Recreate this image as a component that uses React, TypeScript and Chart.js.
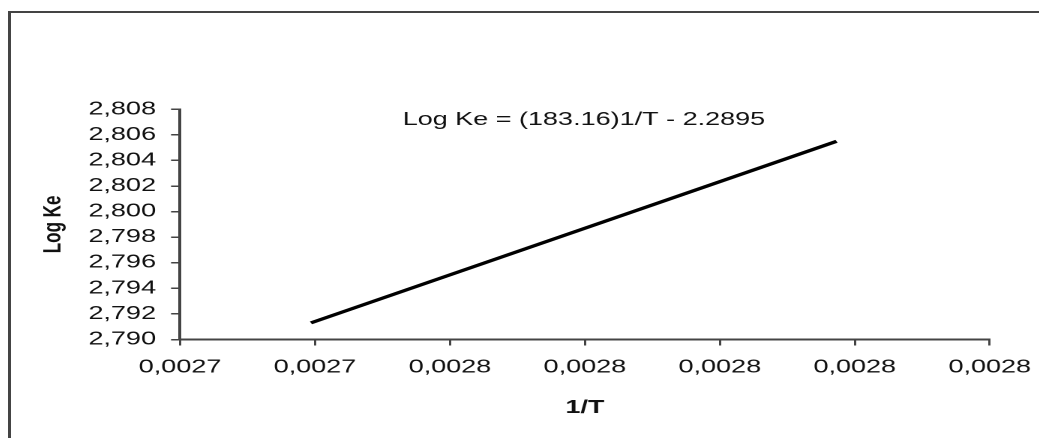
import React, { useEffect, useRef } from "react";
import { Chart, registerables } from "chart.js";

Chart.register(...registerables);

// ---- data ----
const invT = [0.0027394, 0.0028173];
const logKe = [2.7913, 2.8055];
const xTicks = [0.00272, 0.00274, 0.00276, 0.00278, 0.0028, 0.00282, 0.00284];
const xTickLabels = ["0,0027", "0,0027", "0,0028", "0,0028", "0,0028", "0,0028", "0,0028"];
const yTicks = [2.79, 2.792, 2.794, 2.796, 2.798, 2.8, 2.802, 2.804, 2.806, 2.808];
const yTickLabels = ["2,790", "2,792", "2,794", "2,796", "2,798", "2,800", "2,802", "2,804", "2,806", "2,808"];
const equationText = "Log Ke = (183.16)1/T - 2.2895";
const xTitle = "1/T";
const yTitle = "Log Ke";

const FONT = "'Liberation Sans', Arial, sans-serif";
const STRETCH = 1.5;
const W = 693;
const H = 430;

const framePlugin = {
  id: "frameAndEquation",
  afterDraw(chart: any) {
    const { ctx, chartArea } = chart;
    ctx.save();
    ctx.strokeStyle = "#444";
    ctx.lineWidth = 2;
    ctx.beginPath();
    ctx.moveTo(1, H + 10);
    ctx.lineTo(1, 4);
    ctx.lineTo(W + 10, 4);
    ctx.stroke();
    ctx.fillStyle = "#111";
    ctx.font = `18px ${FONT}`;
    ctx.textAlign = "left";
    ctx.textBaseline = "alphabetic";
    ctx.fillText(equationText, chartArea.left + 148.4, chartArea.top + 15.7);
    ctx.restore();
  },
};

export default function App() {
  const ref = useRef<HTMLCanvasElement>(null);
  useEffect(() => {
    if (!ref.current) return;
    const chart = new Chart(ref.current, {
      type: "scatter",
      data: {
        datasets: [
          {
            data: invT.map((x, i) => ({ x, y: logKe[i] })),
            showLine: true,
            borderColor: "#000",
            borderWidth: 3.2,
            pointRadius: 0,
            pointHoverRadius: 0,
          },
        ],
      },
      options: {
        animation: false,
        responsive: false,
        devicePixelRatio: 2,
        layout: { padding: { top: 101.3, right: 35, bottom: 0, left: 0 } },
        plugins: { legend: { display: false }, tooltip: { enabled: false } },
        scales: {
          x: {
            type: "linear",
            min: xTicks[0],
            max: xTicks[xTicks.length - 1],
            afterBuildTicks: (s: any) => {
              s.ticks = xTicks.map((v) => ({ value: v }));
            },
            afterFit: (s: any) => {
              s.height = 98.5;
            },
            ticks: {
              autoSkip: false,
              maxRotation: 0,
              minRotation: 0,
              padding: 11,
              color: "#111",
              font: { family: FONT, size: 18 },
              callback: (_v: any, i: number) => xTickLabels[i],
            },
            grid: { drawOnChartArea: false, drawTicks: true, tickLength: 6, color: "#444", lineWidth: 1.5 },
            border: { display: true, color: "#444", width: 2 },
            title: {
              display: true,
              text: xTitle,
              color: "#111",
              font: { family: FONT, size: 18, weight: "bold" },
              padding: { top: 0, bottom: 19 },
            },
          },
          y: {
            type: "linear",
            min: yTicks[0],
            max: yTicks[yTicks.length - 1],
            afterBuildTicks: (s: any) => {
              s.ticks = yTicks.map((v) => ({ value: v }));
            },
            afterFit: (s: any) => {
              s.width = 114.7;
            },
            ticks: {
              autoSkip: false,
              padding: 10,
              color: "#111",
              font: { family: FONT, size: 18 },
              callback: (_v: any, i: number) => yTickLabels[i],
            },
            grid: { drawOnChartArea: false, drawTicks: true, tickLength: 6, color: "#444", lineWidth: 1.5 },
            border: { display: true, color: "#444", width: 2 },
            title: {
              display: true,
              text: yTitle,
              color: "#111",
              font: { family: FONT, size: 17, weight: "bold" },
              padding: { top: 20, bottom: 0 },
            },
          },
        },
      } as any,
      plugins: [framePlugin],
    });
    return () => chart.destroy();
  }, []);

  return (
    <div style={{ width: 1039, height: H, overflow: "hidden", background: "#fff" }}>
      <div style={{ width: W, height: H, transform: `scaleX(${STRETCH})`, transformOrigin: "0 0" }}>
        <canvas ref={ref} width={W} height={H} />
      </div>
    </div>
  );
}
